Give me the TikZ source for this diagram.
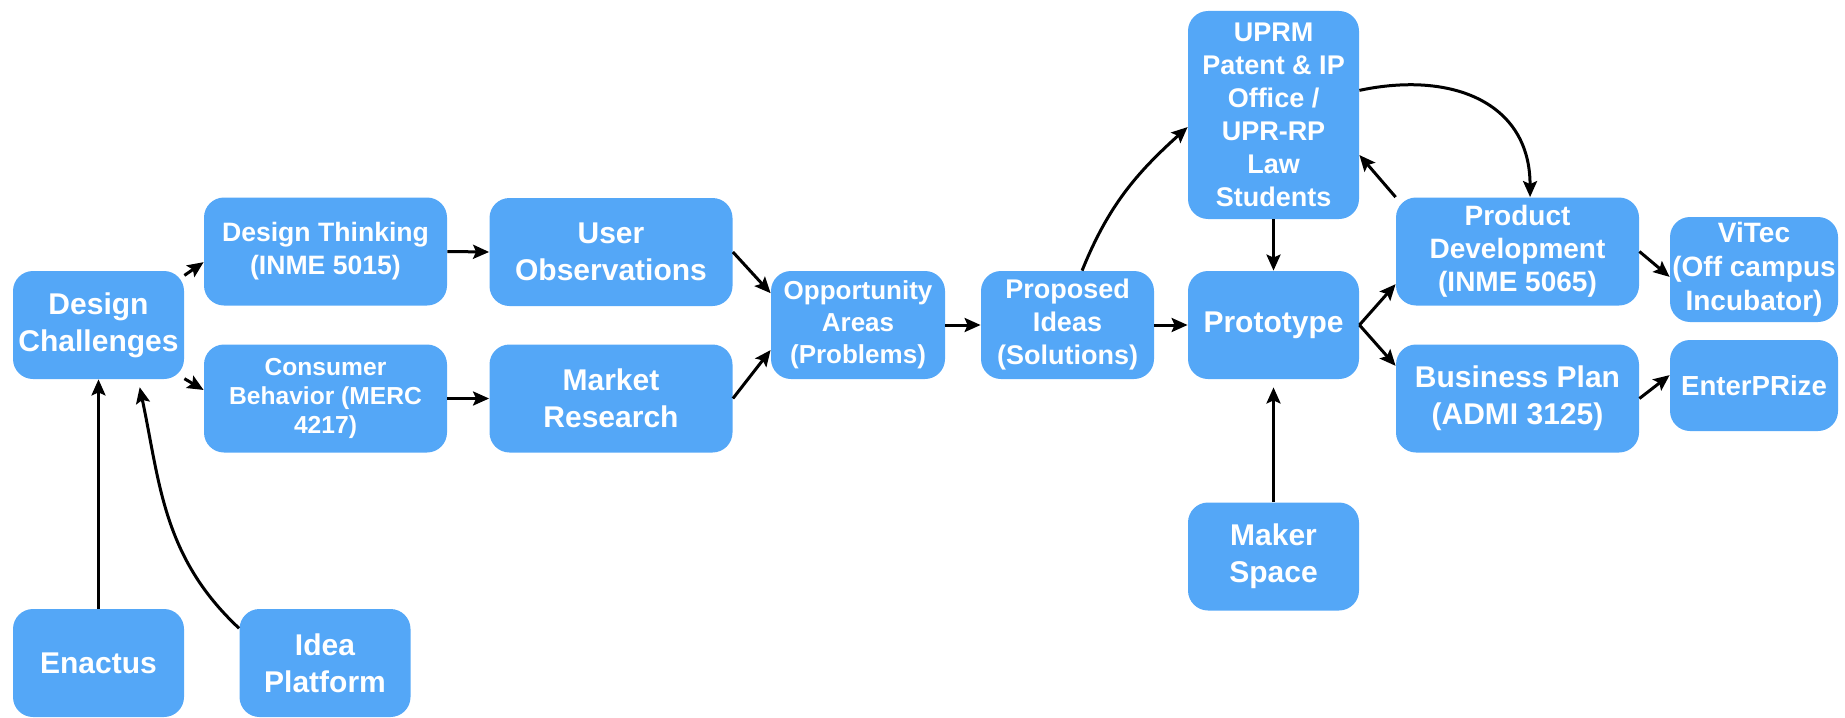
\documentclass[tikz,border=0pt]{standalone}
\usepackage{fontspec}
\setmainfont{Liberation Sans}
\usetikzlibrary{arrows.meta}
\definecolor{boxblue}{RGB}{84,167,247}
\tikzset{
  box/.style={fill=boxblue,rounded corners=10pt,text=white,align=center,inner sep=0pt},
  wide/.style={box,minimum width=121.5pt,minimum height=54pt},
  narrow/.style={box,minimum width=85.5pt,minimum height=54pt},
  fbig/.style={font=\fontsize{15}{18.5}\selectfont\bfseries},
  fmid/.style={font=\fontsize{13.5}{16.5}\selectfont\bfseries},
  fsmall/.style={font=\fontsize{12.3}{14.5}\selectfont\bfseries},
  conn/.style={line width=1.5pt,-{Stealth[length=8pt,width=7pt,inset=1.5pt]}}
}
\begin{document}
\begin{tikzpicture}[x=0.5pt,y=-0.5pt]
 % \draw[thin,gray!40] (0,0) grid[step=100] (1845,717);
  \useasboundingbox (0,0) rectangle (1845,717);
  \node[narrow,fbig] (chal) at (98.5,325) {Design\\Challenges};
  \node[wide,fmid,font=\fontsize{13.3}{16.5}\selectfont\bfseries] (think) at (325.5,251.5) {Design Thinking\\(INME 5015)};
  \node[wide,fsmall] (consumer) at (325.5,398.5) {Consumer\\Behavior (MERC\\4217)};
  \node[wide,fbig] (observ) at (611,252) {User\\Observations};
  \node[wide,fbig] (market) at (611,398.5) {Market\\Research};
  \node[narrow,minimum width=87pt,fmid,font=\fontsize{13}{16}\selectfont\bfseries] (opport) at (858,325) {Opportunity\\Areas\\(Problems)};
  \node[narrow,minimum width=86.5pt,fmid] (ideas) at (1067.5,325) {Proposed\\Ideas\\(Solutions)};
  \node[narrow,minimum height=104pt,fmid] (uprm) at (1273.5,115) {UPRM\\Patent \& IP\\Office /\\UPR-RP\\Law\\Students};
  \node[narrow,fbig] (proto) at (1273.5,325) {Prototype};
  \node[narrow,fbig] (maker) at (1273.5,556.5) {Maker\\Space};
  \node[wide,fmid,font=\fontsize{14}{16.5}\selectfont\bfseries] (proddev) at (1517.5,251.5) {Product\\Development\\(INME 5065)};
  \node[wide,fbig] (bizplan) at (1517.5,398.5) {Business Plan\\(ADMI 3125)};
  \node[narrow,minimum width=84pt,minimum height=52.5pt,font=\fontsize{14}{17}\selectfont\bfseries] (vitec) at (1754,269.5) {ViTec\\(Off campus\\Incubator)};
  \node[narrow,minimum width=84pt,minimum height=45.5pt,font=\fontsize{13.8}{16.5}\selectfont\bfseries] (enterprize) at (1754,385.5) {EnterPRize};
  \node[narrow,fbig] (enactus) at (98.5,663) {Enactus};
  \node[narrow,fbig] (ideaplat) at (325,663) {Idea\\Platform};

  \draw[conn] (chal.30) -- (think.185);
  \draw[conn] (chal.-32) -- (consumer.176);
  \draw[conn] (think.east) -- (observ.west);
  \draw[conn] (consumer.east) -- (market.west);
  \draw[conn] (observ.east) -- (opport.160);
  \draw[conn] (market.east) -- (opport.196);
  \draw[conn] (opport.east) -- (ideas.west);
  \draw[conn] (ideas.east) -- (proto.west);
  \draw[conn] (ideas.75) to[out=68,in=222] (uprm.188);
  \draw[conn] (uprm.south) -- (proto.north);
  \draw[conn] (uprm.16) to[out=12,in=90,looseness=1.2] (proddev.77);
  \draw[conn] (proddev.north west) -- (uprm.-25);
  \draw[conn] (proto.east) -- (proddev.195);
  \draw[conn] (proto.east) -- (bizplan.165);
  \draw[conn,shorten >=4pt] (maker.north) -- (proto.south);
  \draw[conn] (proddev.east) -- (vitec.185);
  \draw[conn] (bizplan.east) -- (enterprize.173);
  \draw[conn] (enactus.north) -- (chal.south);
  \draw[conn,shorten >=4pt] (ideaplat.158) to[out=137,in=-78] (chal.-54);
\end{tikzpicture}
\end{document}
